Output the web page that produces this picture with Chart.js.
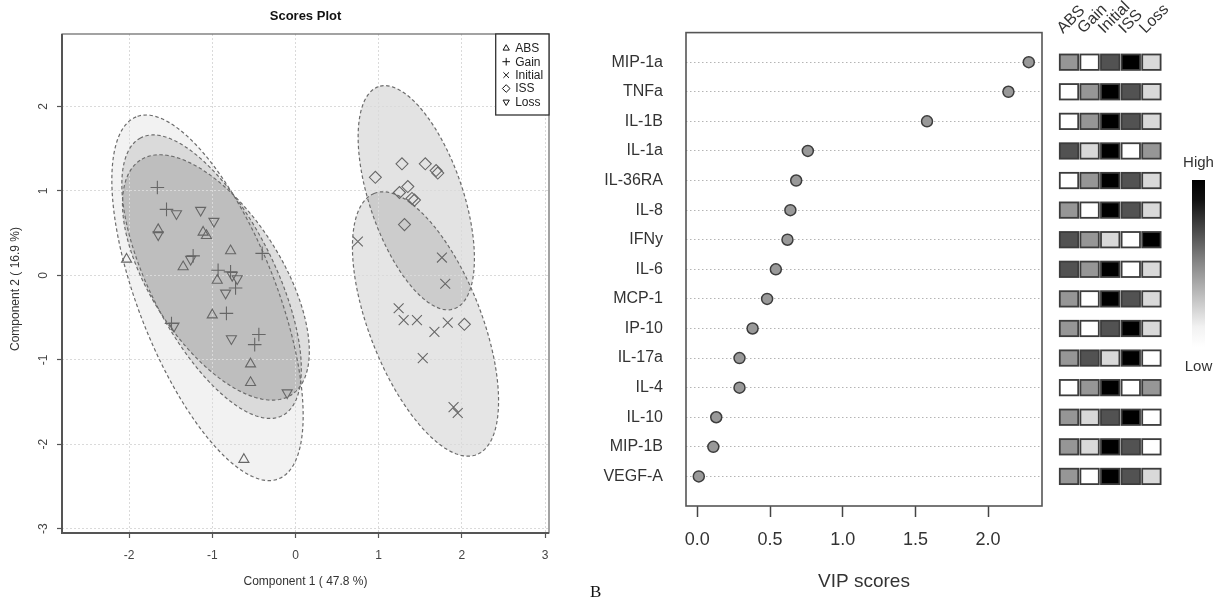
<!DOCTYPE html>
<html>
<head>
<meta charset="utf-8">
<script src="https://cdn.jsdelivr.net/npm/chart.js@4.4.1/dist/chart.umd.min.js"></script>
<style>
  html, body { margin: 0; padding: 0; background: #fff; }
  body { width: 1223px; height: 605px; position: relative; overflow: hidden; }
  #scores { position: absolute; left: 0; top: 0; }
  #vip { position: absolute; left: 590px; top: 0; }
  #panelTag { position: absolute; left: 590px; top: 582px; line-height: 20px;
              font-family: "Liberation Serif", "Times New Roman", serif; font-size: 17px; color: #111; }
</style>
</head>
<body>
<canvas id="scores" width="590" height="605"></canvas>
<canvas id="vip" width="633" height="605"></canvas>
<div id="panelTag">B</div>
<script>
const FONT = '"Liberation Sans", Arial, Helvetica, sans-serif';
Chart.defaults.font.family = FONT;

// ---------- Scores plot: component 1 / component 2 scores per group ----------
const groupNames = ['ABS', 'Gain', 'Initial', 'ISS', 'Loss'];

const absComp1 = [-2.03, -1.65, -1.11, -1.07, -0.78, -1.35, -0.94, -1.00, -0.54, -0.54, -0.62];
const absComp2 = [0.19, 0.54, 0.51, 0.47, 0.29, 0.10, -0.06, -0.47, -1.05, -1.27, -2.18];

const gainComp1 = [-1.66, -1.55, -1.23, -0.93, -0.78, -0.72, -0.40, -0.83, -1.49, -0.44, -0.49];
const gainComp2 = [1.04, 0.78, 0.23, 0.06, 0.04, -0.15, 0.26, -0.45, -0.57, -0.70, -0.82];

const initialComp1 = [0.75, 1.76, 1.80, 1.24, 1.30, 1.46, 1.67, 1.83, 1.53, 1.90, 1.95];
const initialComp2 = [0.40, 0.21, -0.10, -0.39, -0.53, -0.53, -0.67, -0.56, -0.98, -1.56, -1.63];

const issComp1 = [0.96, 1.28, 1.56, 1.69, 1.71, 1.35, 1.25, 1.40, 1.43, 1.31, 2.03];
const issComp2 = [1.16, 1.32, 1.32, 1.24, 1.21, 1.05, 0.98, 0.91, 0.89, 0.60, -0.58];

const lossComp1 = [-1.43, -1.14, -0.98, -1.65, -1.26, -0.76, -0.70, -0.84, -1.46, -0.77, -0.10];
const lossComp2 = [0.73, 0.77, 0.64, 0.48, 0.19, 0.00, -0.04, -0.21, -0.60, -0.75, -1.39];

const comp1Ticks = [-2, -1, 0, 1, 2, 3];
const comp2Ticks = [-3, -2, -1, 0, 1, 2];

// ---------- VIP scores and relative group levels ----------
const cytokines = ['MIP-1a', 'TNFa', 'IL-1B', 'IL-1a', 'IL-36RA', 'IL-8', 'IFNy', 'IL-6',
                   'MCP-1', 'IP-10', 'IL-17a', 'IL-4', 'IL-10', 'MIP-1B', 'VEGF-A'];
const vipScores = [2.28, 2.14, 1.58, 0.76, 0.68, 0.64, 0.62, 0.54, 0.48, 0.38, 0.29, 0.29, 0.13, 0.11, 0.01];
const vipTicks = [0.0, 0.5, 1.0, 1.5, 2.0];

// 1 = lowest ... 5 = highest, one value per cytokine
const levelABS     = [3, 1, 1, 4, 1, 3, 4, 4, 3, 3, 3, 1, 3, 3, 3];
const levelGain    = [1, 3, 3, 2, 3, 1, 3, 3, 1, 1, 4, 3, 2, 2, 1];
const levelInitial = [4, 5, 5, 5, 5, 5, 2, 5, 5, 4, 2, 5, 4, 5, 5];
const levelISS     = [5, 4, 4, 1, 4, 4, 1, 1, 4, 5, 5, 1, 5, 4, 4];
const levelLoss    = [2, 2, 2, 3, 2, 2, 5, 2, 2, 2, 1, 3, 1, 1, 2];
const levelColumns = ['ABS', 'Gain', 'Initial', 'ISS', 'Loss'];

// ---------- styling ----------
const groupSeries = [
  { xs: absComp1,     ys: absComp2,     style: 'triangle', rot: 0,   r: 5.8, fill: 'rgba(0,0,0,0.05)' },
  { xs: gainComp1,    ys: gainComp2,    style: 'cross',    rot: 0,   r: 6.8, fill: 'rgba(0,0,0,0.13)' },
  { xs: initialComp1, ys: initialComp2, style: 'crossRot', rot: 0,   r: 7,   fill: 'rgba(0,0,0,0.10)' },
  { xs: issComp1,     ys: issComp2,     style: 'rectRot',  rot: 0,   r: 6,   fill: 'rgba(0,0,0,0.11)' },
  { xs: lossComp1,    ys: lossComp2,    style: 'triangle', rot: 180, r: 5.8, fill: 'rgba(0,0,0,0.10)' }
];
const levelGrays = ['#ffffff', '#d9d9d9', '#969696', '#525252', '#000000'];

// 95% confidence ellipse of a group (chi-square quantile, 2 df)
const CHI2_95 = 5.991;
function confidenceEllipse(xs, ys, steps = 160) {
  const n = xs.length;
  const mx = xs.reduce((a, b) => a + b, 0) / n;
  const my = ys.reduce((a, b) => a + b, 0) / n;
  let sxx = 0, syy = 0, sxy = 0;
  for (let i = 0; i < n; i++) {
    const dx = xs[i] - mx, dy = ys[i] - my;
    sxx += dx * dx; syy += dy * dy; sxy += dx * dy;
  }
  sxx /= n - 1; syy /= n - 1; sxy /= n - 1;
  const half = (sxx + syy) / 2;
  const root = Math.sqrt(((sxx - syy) / 2) ** 2 + sxy * sxy);
  const l1 = half + root, l2 = Math.max(half - root, 0);
  const ang = Math.atan2(l1 - sxx, sxy);
  const k = Math.sqrt(CHI2_95);
  const a = k * Math.sqrt(l1), b = k * Math.sqrt(l2);
  const c = Math.cos(ang), s = Math.sin(ang);
  const pts = [];
  for (let i = 0; i < steps; i++) {
    const t = 2 * Math.PI * i / steps;
    const ex = a * Math.cos(t), ey = b * Math.sin(t);
    pts.push([mx + ex * c - ey * s, my + ex * s + ey * c]);
  }
  return pts;
}

function ellipsePixels(chart, g) {
  const { x, y } = chart.scales;
  return confidenceEllipse(g.xs, g.ys).map(p => [x.getPixelForValue(p[0]), y.getPixelForValue(p[1])]);
}

function tracePath(ctx, pts) {
  ctx.beginPath();
  pts.forEach((p, i) => i ? ctx.lineTo(p[0], p[1]) : ctx.moveTo(p[0], p[1]));
  ctx.closePath();
}

// small legend glyphs
function legendGlyph(ctx, style, rot, cx, cy) {
  ctx.beginPath();
  if (style === 'triangle') {
    const r = 3.6, d = rot ? -1 : 1;
    ctx.moveTo(cx, cy - d * r);
    ctx.lineTo(cx + r * 0.87, cy + d * r * 0.5);
    ctx.lineTo(cx - r * 0.87, cy + d * r * 0.5);
    ctx.closePath();
  } else if (style === 'cross') {
    ctx.moveTo(cx - 3.8, cy); ctx.lineTo(cx + 3.8, cy);
    ctx.moveTo(cx, cy - 3.8); ctx.lineTo(cx, cy + 3.8);
  } else if (style === 'crossRot') {
    ctx.moveTo(cx - 2.8, cy - 2.8); ctx.lineTo(cx + 2.8, cy + 2.8);
    ctx.moveTo(cx + 2.8, cy - 2.8); ctx.lineTo(cx - 2.8, cy + 2.8);
  } else {
    ctx.moveTo(cx, cy - 3.8); ctx.lineTo(cx + 3.8, cy);
    ctx.lineTo(cx, cy + 3.8); ctx.lineTo(cx - 3.8, cy);
    ctx.closePath();
  }
  ctx.stroke();
}

const scoresDecor = {
  id: 'scoresDecor',
  beforeDraw(chart) {
    const { ctx, chartArea: a } = chart;
    ctx.save();
    ctx.beginPath(); ctx.rect(a.left, a.top, a.width, a.height); ctx.clip();
    groupSeries.forEach(g => {
      tracePath(ctx, ellipsePixels(chart, g));
      ctx.fillStyle = g.fill;
      ctx.fill();
    });
    ctx.restore();
  },
  beforeDatasetsDraw(chart) {
    const { ctx, chartArea: a } = chart;
    ctx.save();
    ctx.beginPath(); ctx.rect(a.left, a.top, a.width, a.height); ctx.clip();
    ctx.setLineDash([3.5, 2.5]);
    ctx.strokeStyle = '#6c6c6c';
    ctx.lineWidth = 1.2;
    groupSeries.forEach(g => { tracePath(ctx, ellipsePixels(chart, g)); ctx.stroke(); });
    ctx.restore();
  },
  afterDraw(chart) {
    const { ctx, chartArea: a, scales: { y } } = chart;
    ctx.save();
    // frame
    ctx.strokeStyle = '#666'; ctx.lineWidth = 1.2;
    ctx.strokeRect(a.left, a.top, a.width, a.height);
    ctx.strokeStyle = '#555'; ctx.lineWidth = 2;
    ctx.beginPath();
    ctx.moveTo(a.left, a.top); ctx.lineTo(a.left, a.bottom); ctx.lineTo(a.right, a.bottom);
    ctx.stroke();

    // title
    ctx.fillStyle = '#111';
    ctx.font = 'bold 13px ' + FONT;
    ctx.textAlign = 'center'; ctx.textBaseline = 'middle';
    ctx.fillText('Scores Plot', (a.left + a.right) / 2, 16);

    // axis titles
    ctx.fillStyle = '#333';
    ctx.font = '12px ' + FONT;
    ctx.fillText('Component 1 ( 47.8 %)', (a.left + a.right) / 2, 582);
    ctx.save();
    ctx.translate(16, 289); ctx.rotate(-Math.PI / 2);
    ctx.fillText('Component 2 ( 16.9 %)', 0, 0);
    ctx.restore();

    // rotated y tick labels
    ctx.fillStyle = '#444';
    y.ticks.forEach(t => {
      ctx.save();
      ctx.translate(44, y.getPixelForValue(t.value));
      ctx.rotate(-Math.PI / 2);
      ctx.fillText(String(t.value), 0, 0);
      ctx.restore();
    });

    // legend
    const lx = 495.7, ly = a.top, lw = a.right - lx, lh = 81;
    ctx.fillStyle = '#fff';
    ctx.fillRect(lx, ly, lw, lh);
    ctx.strokeStyle = '#333'; ctx.lineWidth = 1.3;
    ctx.strokeRect(lx, ly, lw, lh);
    ctx.font = '12px ' + FONT;
    ctx.textAlign = 'left';
    groupNames.forEach((name, i) => {
      const cy = ly + 14.3 + i * 13.4;
      ctx.strokeStyle = '#111'; ctx.lineWidth = 1;
      legendGlyph(ctx, groupSeries[i].style, groupSeries[i].rot, lx + 10.5, cy);
      ctx.fillStyle = '#222';
      ctx.fillText(name, lx + 19.5, cy + 0.5);
    });
    ctx.restore();
  }
};

new Chart(document.getElementById('scores'), {
  type: 'scatter',
  data: {
    datasets: groupSeries.map((g, i) => ({
      label: groupNames[i],
      data: g.xs.map((v, j) => ({ x: v, y: g.ys[j] })),
      pointStyle: g.style,
      rotation: g.rot,
      pointRadius: g.r,
      pointHoverRadius: g.r,
      pointBorderWidth: 1.1,
      pointBorderColor: '#666666',
      pointBackgroundColor: 'rgba(0,0,0,0)'
    }))
  },
  options: {
    responsive: false,
    animation: false,
    devicePixelRatio: 1,
    events: [],
    layout: { padding: { top: 34, right: 41, left: 0, bottom: 0 } },
    plugins: { legend: { display: false }, tooltip: { enabled: false } },
    scales: {
      x: {
        type: 'linear', min: -2.806, max: 3.047,
        afterFit(s) { s.height = 72; },
        afterBuildTicks(s) { s.ticks = comp1Ticks.map(v => ({ value: v })); },
        ticks: { callback: v => String(v), font: { size: 12 }, color: '#444', padding: 10, maxRotation: 0 },
        grid: { color: '#dadada', lineWidth: 1, tickColor: '#555', tickLength: 5, tickWidth: 1.2 },
        border: { display: false, dash: [2, 2] }
      },
      y: {
        type: 'linear', min: -3.05, max: 2.856,
        afterFit(s) { s.width = 62; },
        afterBuildTicks(s) { s.ticks = comp2Ticks.map(v => ({ value: v })); },
        ticks: { display: false },
        grid: { color: '#dadada', lineWidth: 1, tickColor: '#555', tickLength: 5, tickWidth: 1.2 },
        border: { display: false, dash: [2, 2] }
      }
    }
  },
  plugins: [scoresDecor]
});

// ---------- VIP panel ----------
const vipDecor = {
  id: 'vipDecor',
  afterDraw(chart) {
    const { ctx, chartArea: a, scales: { y } } = chart;
    ctx.save();
    ctx.strokeStyle = '#555'; ctx.lineWidth = 1.6;
    ctx.strokeRect(a.left, a.top, a.width, a.height);

    ctx.fillStyle = '#333';
    ctx.font = '19px ' + FONT;
    ctx.textAlign = 'center'; ctx.textBaseline = 'middle';
    ctx.fillText('VIP scores', (a.left + a.right) / 2, 582);

    // group level boxes, one row per cytokine
    const levels = [levelABS, levelGain, levelInitial, levelISS, levelLoss];
    const col0 = 479, pitch = 20.6, cw = 18.4, ch = 15.4;
    cytokines.forEach((c, i) => {
      const cy = y.getPixelForValue(i + 1);
      levels.forEach((arr, j) => {
        const cx = col0 + j * pitch;
        ctx.fillStyle = levelGrays[arr[i] - 1];
        ctx.fillRect(cx - cw / 2, cy - ch / 2, cw, ch);
        ctx.strokeStyle = '#3c3c3c'; ctx.lineWidth = 1.8;
        ctx.strokeRect(cx - cw / 2, cy - ch / 2, cw, ch);
      });
    });

    // column headers
    ctx.fillStyle = '#333';
    ctx.font = '16px ' + FONT;
    ctx.textAlign = 'left'; ctx.textBaseline = 'alphabetic';
    levelColumns.forEach((name, j) => {
      ctx.save();
      ctx.translate(col0 + j * pitch - 6, 34);
      ctx.rotate(-Math.PI / 4);
      ctx.fillText(name, 0, 0);
      ctx.restore();
    });

    // colour key
    const bx = 602, bw = 13, by0 = 180, by1 = 347;
    const grad = ctx.createLinearGradient(0, by0, 0, by1);
    grad.addColorStop(0, '#000000');
    grad.addColorStop(0.12, '#111111');
    grad.addColorStop(0.5, '#888888');
    grad.addColorStop(0.88, '#f2f2f2');
    grad.addColorStop(1, '#ffffff');
    ctx.fillStyle = grad;
    ctx.fillRect(bx, by0, bw, by1 - by0);
    ctx.fillStyle = '#333';
    ctx.font = '15px ' + FONT;
    ctx.textAlign = 'center'; ctx.textBaseline = 'middle';
    ctx.fillText('High', bx + bw / 2, 163);
    ctx.fillText('Low', bx + bw / 2, 367);
    ctx.restore();
  }
};

new Chart(document.getElementById('vip'), {
  type: 'scatter',
  data: {
    datasets: [{
      label: 'VIP',
      data: vipScores.map((v, i) => ({ x: v, y: i + 1 })),
      pointStyle: 'circle',
      pointRadius: 5.5,
      pointHoverRadius: 5.5,
      pointBackgroundColor: '#999999',
      pointBorderColor: '#3d3d3d',
      pointBorderWidth: 1.5
    }]
  },
  options: {
    responsive: false,
    animation: false,
    devicePixelRatio: 1,
    events: [],
    layout: { padding: { top: 24, right: 181, left: 0, bottom: 0 } },
    plugins: { legend: { display: false }, tooltip: { enabled: false } },
    scales: {
      x: {
        type: 'linear', min: -0.078, max: 2.371,
        afterFit(s) { s.height = 99; },
        afterBuildTicks(s) { s.ticks = vipTicks.map(v => ({ value: v })); },
        ticks: { callback: v => v.toFixed(1), font: { size: 18 }, color: '#333', padding: 12, maxRotation: 0 },
        grid: { drawOnChartArea: false, drawTicks: true, tickLength: 11, tickColor: '#444', tickWidth: 1.5 },
        border: { display: false }
      },
      y: {
        type: 'linear', min: 0, max: 16, reverse: true,
        afterFit(s) { s.width = 96; },
        afterBuildTicks(s) { s.ticks = cytokines.map((c, i) => ({ value: i + 1 })); },
        ticks: { callback: v => cytokines[v - 1], font: { size: 16 }, color: '#333', padding: 23, autoSkip: false },
        grid: { color: '#b4b4b4', lineWidth: 1, drawTicks: false },
        border: { display: false, dash: [1.5, 2.5] }
      }
    }
  },
  plugins: [vipDecor]
});
</script>
</body>
</html>
